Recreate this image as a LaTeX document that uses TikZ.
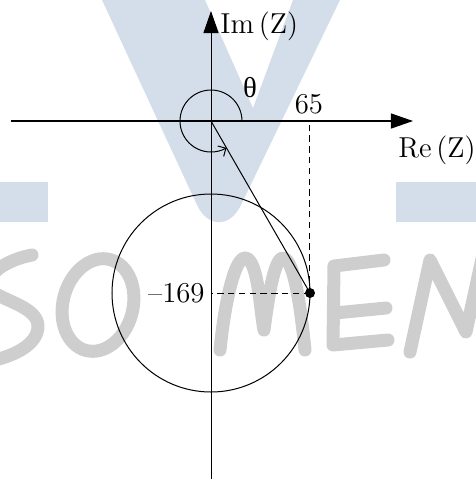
\documentclass[tikz,border=0pt]{standalone}
\usepackage{fontspec}
\newfontfamily\grk{Liberation Serif}
\usetikzlibrary{arrows.meta}
\definecolor{wmblue}{RGB}{212,222,234}
\definecolor{wmgray}{RGB}{206,206,206}
\begin{document}
\begin{tikzpicture}[x=0.5pt,y=-0.5pt,
  axis/.style={line width=0.55pt,-{Triangle[length=11pt,width=7.5pt]}},
  thinline/.style={line width=0.5pt},
  guide/.style={line width=0.5pt,dash pattern=on 3.2pt off 2.2pt},
  lbl/.style={font=\fontsize{14.4}{17}\selectfont, inner sep=0pt},
  wm/.style={wmgray,line width=6.5pt,line cap=round,line join=round}]
\useasboundingbox (0,0) rectangle (476,479);
% watermark
\fill[wmblue] (102,0) -- (205,0) -- (253,108) -- (293,0) -- (340,0) -- (241,205) .. controls (230,228) and (208,228) .. (197,205) -- cycle;
\fill[wmblue] (0,182) rectangle (48,222);
\fill[wmblue] (396,182) rectangle (476,222);
\begin{scope}
\clip (0,0) rectangle (476,479);
\draw[wm] (32,255) .. controls (15,258) and (-15,270) .. (-10,288) .. controls (-5,300) and (40,305) .. (38,328) .. controls (36,345) and (15,355) .. (-5,360);
\draw[wm,rotate around={-15:(98,305)}] (98,305) ellipse[x radius=35, y radius=47];
\draw[wm] (220,350) .. controls (225,300) and (235,258) .. (245,258) .. controls (258,258) and (260,310) .. (264,330) .. controls (268,300) and (274,258) .. (283,258) .. controls (295,258) and (302,320) .. (305,350);
\draw[wm] (384,260) -- (334,266) -- (333,345) -- (388,340);
\draw[wm] (335,313) -- (386,308);
\draw[wm] (410,352) -- (430,260) -- (466,332) -- (485,245);
\end{scope}
% diagram
\coordinate (O) at (211,121);
\coordinate (XL) at (11,121);
\coordinate (XR) at (413,121);
\coordinate (YB) at (211,479);
\coordinate (YT) at (211,11);
\coordinate (P) at (310,293);
\coordinate (C) at (211,293);
\coordinate (PX) at (310,121);
\coordinate (T0) at (242,121);
\draw[axis] (XL) -- (XR);
\draw[axis,line width=0.45pt] (YB) -- (YT);
\draw[thinline] (C) circle[radius=99];
\draw[guide] (P) -- (PX);
\draw[guide] (P) -- (C);
\draw[thinline] (O) -- (P);
\fill (P) circle[radius=5];
\draw[thinline,-{Straight Barb[length=3pt,width=6pt]}] (T0) arc[start angle=0,end angle=-300,radius=31];
\node[lbl,anchor=west] (im) at (220,26) {$\mathrm{Im}\left(\mathrm{Z}\right)$};
\node[lbl,anchor=west] (re) at (398,150) {$\mathrm{Re}\left(\mathrm{Z}\right)$};
\node[lbl] (n65) at (309,104) {65};
\node[lbl,anchor=east] (n169) at (205,293) {--169};
\node[lbl] (th) at (250,88) {\grk θ};
\end{tikzpicture}
\end{document}
